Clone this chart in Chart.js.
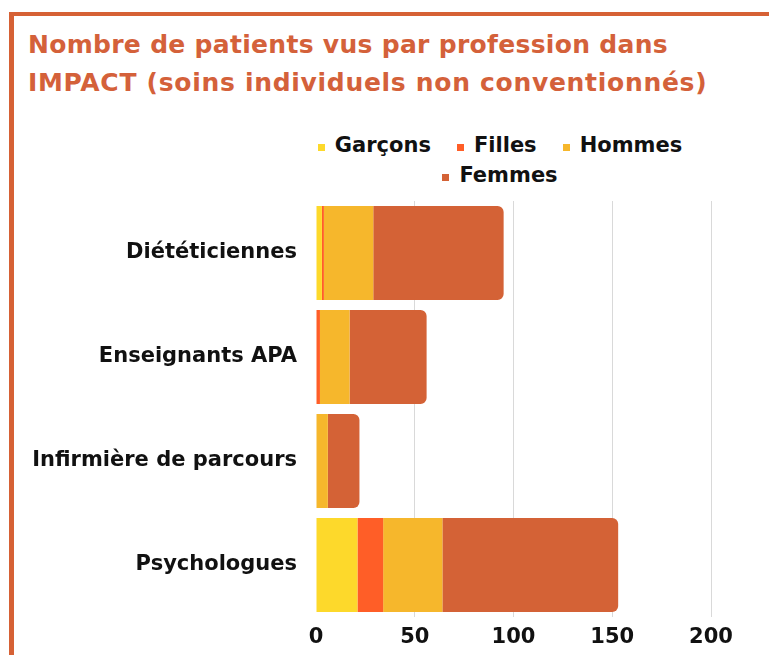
<!DOCTYPE html>
<html lang="fr">
<head>
<meta charset="utf-8">
<title>Nombre de patients vus par profession dans IMPACT</title>
<script src="https://cdn.jsdelivr.net/npm/chart.js@4.4.1/dist/chart.umd.min.js"></script>
<style>
    body { margin: 0; background: #ffffff; width: 769px; height: 655px; overflow: hidden; position: relative; font-family: "DejaVu Sans", sans-serif; }
    #frame { position: absolute; left: 9px; top: 12px; width: 800px; height: 700px; border-top: 4px solid #d66135; border-left: 5px solid #d66135; }
    #title { position: absolute; left: 28px; top: 26px; font-weight: bold; font-size: 25px; line-height: 38px; letter-spacing: 0.3px; color: #d4613a; white-space: nowrap; }
    #title .l2 { letter-spacing: 0.7px; }
    #legend { position: absolute; left: 300px; top: 130px; width: 400px; display: flex; flex-wrap: wrap; justify-content: center; column-gap: 26px; font-weight: bold; font-size: 21px; line-height: 30px; color: #111111; }
    #legend span.item { display: inline-flex; align-items: center; white-space: nowrap; }
    #legend span.box { display: inline-block; width: 7px; height: 7px; margin-right: 10px; margin-top: 4px; }
    #wrap { position: absolute; left: 0; top: 190px; width: 769px; height: 465px; }
</style>
</head>
<body>
<div id="frame"></div>
<div id="title">Nombre de patients vus par profession dans<br><span class="l2">IMPACT (soins individuels non conventionnés)</span></div>
<div id="legend"></div>
<div id="wrap"><canvas id="myChart" width="769" height="465"></canvas></div>
<script>
    var professions = ['Diététiciennes', 'Enseignants APA', 'Infirmière de parcours', 'Psychologues'];
    var seriesNames = ['Garçons', 'Filles', 'Hommes', 'Femmes'];
    var garcons = [3, 0, 0, 21];
    var filles = [1, 2, 0, 13];
    var hommes = [25, 15, 6, 30];
    var femmes = [66, 39, 16, 89];
    var xTicks = [0, 50, 100, 150, 200];
    var colors = ['#fdd92b', '#ff5e27', '#f6b72c', '#d46236'];

    var myChart;
    var labelFont = { family: 'DejaVu Sans', weight: 'bold', size: 21 };

    function buildLegend(datasets) {
        var box = document.getElementById('legend');
        box.innerHTML = '';
        for (var i = 0; i < datasets.length; i++) {
            var item = document.createElement('span');
            item.className = 'item';
            var sq = document.createElement('span');
            sq.className = 'box';
            sq.style.background = datasets[i].backgroundColor;
            item.appendChild(sq);
            item.appendChild(document.createTextNode(datasets[i].label));
            box.appendChild(item);
        }
    }

    function drawChart() {
        var values = [garcons, filles, hommes, femmes];
        var datasets = [];
        for (var i = 0; i < seriesNames.length; i++) {
            var ds = {
                label: seriesNames[i],
                data: values[i],
                backgroundColor: colors[i],
                borderWidth: 0,
                categoryPercentage: 1,
                barPercentage: 0.904
            };
            // only the last segment gets the rounded end
            if (i === seriesNames.length - 1) {
                ds.borderRadius = 6;
                ds.borderSkipped = 'start';
            }
            datasets.push(ds);
        }
        buildLegend(datasets);

        const config = {
            type: 'bar',
            data: {
                labels: professions,
                datasets: datasets
            },
            options: {
                indexAxis: 'y',
                responsive: false,
                animation: false,
                devicePixelRatio: 1,
                layout: {
                    padding: { top: 11, right: 58, bottom: 3, left: 0 }
                },
                plugins: {
                    legend: { display: false },
                    title: { display: false },
                    tooltip: { enabled: false }
                },
                scales: {
                    x: {
                        stacked: true,
                        min: xTicks[0],
                        max: xTicks[xTicks.length - 1],
                        afterBuildTicks: function (scale) {
                            scale.ticks = xTicks.map(function (v) { return { value: v }; });
                        },
                        afterFit: function (scale) {
                            scale.height = 35;
                            scale.paddingLeft = 0;
                            scale.paddingRight = 0;
                        },
                        border: { display: false },
                        grid: {
                            drawTicks: false,
                            lineWidth: 1,
                            color: function (context) {
                                if (context.tick && context.tick.value === 0) {
                                    return 'rgba(0,0,0,0)';
                                }
                                return '#d9d9d9';
                            }
                        },
                        ticks: {
                            padding: 8,
                            color: '#111111',
                            font: labelFont
                        }
                    },
                    y: {
                        stacked: true,
                        afterFit: function (scale) {
                            scale.width = 316;
                            scale.paddingTop = 0;
                            scale.paddingBottom = 0;
                        },
                        border: { display: false },
                        grid: { display: false, drawTicks: false },
                        ticks: {
                            padding: 19,
                            color: '#111111',
                            font: labelFont
                        }
                    }
                }
            }
        };
        if (myChart !== undefined)
            myChart.destroy();
        var ctx = document.getElementById('myChart').getContext('2d');
        myChart = new Chart(ctx, config);
    }

    drawChart();
</script>
</body>
</html>
